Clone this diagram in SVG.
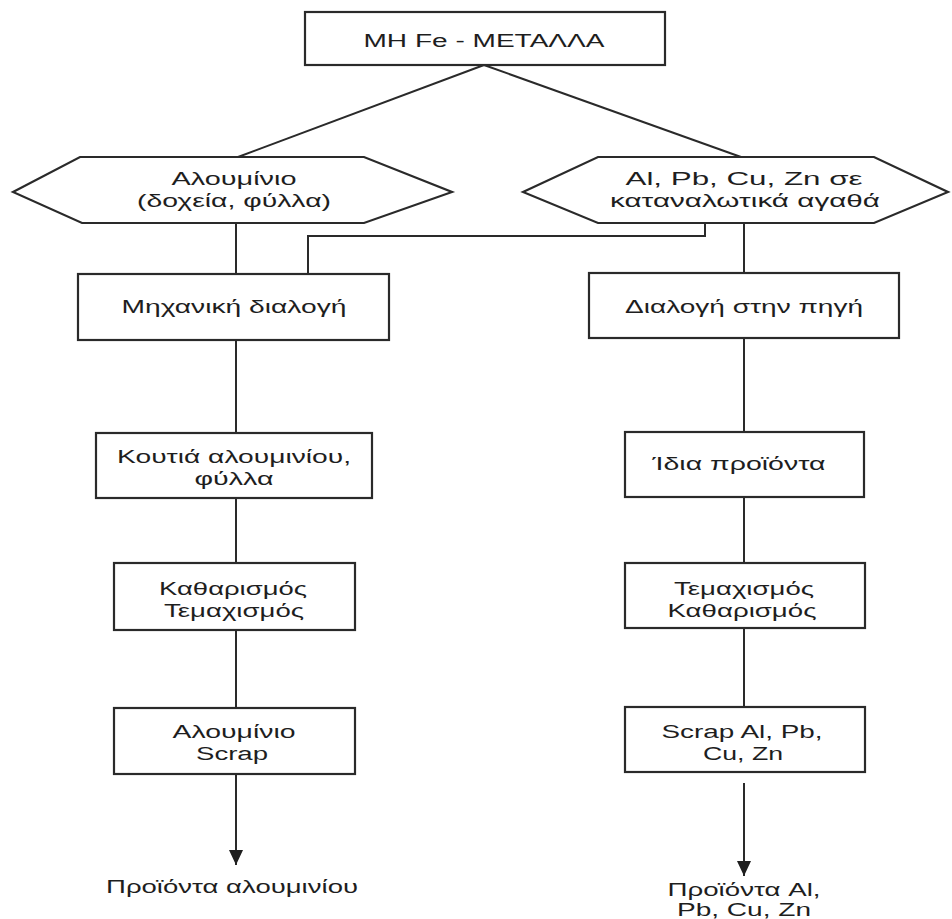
<svg xmlns="http://www.w3.org/2000/svg" width="952" height="919" viewBox="0 0 952 919">
<defs>
<style>
.n{fill:#fff;stroke:#2a2a2a;stroke-width:2.2}
.c{fill:none;stroke:#2a2a2a;stroke-width:2}
text{font-family:"Liberation Sans",Arial,sans-serif;font-size:18px;fill:#1e1e1e;text-anchor:middle}
</style>
<marker id="ah" markerUnits="userSpaceOnUse" markerWidth="16" markerHeight="14" refX="15" refY="7" orient="auto">
<path d="M0,0 L15,7 L0,14 Z" fill="#1e1e1e"/>
</marker>
</defs>
<rect width="952" height="919" fill="#fff"/>
<g id="connectors">
<path class="c" d="M484,65 L238,157"/>
<path class="c" d="M484,65 L741,157"/>
<path class="c" d="M236,223 V274"/>
<path class="c" d="M705,223 V236 H308 V274"/>
<path class="c" d="M744,223 V273"/>
<path class="c" d="M236,340 V433"/>
<path class="c" d="M744,338 V432"/>
<path class="c" d="M236,498 V563"/>
<path class="c" d="M744,497 V563"/>
<path class="c" d="M236,630 V708"/>
<path class="c" d="M744,628 V707"/>
<path class="c" d="M236,774 V865" marker-end="url(#ah)"/>
<path class="c" d="M744,783 V876" marker-end="url(#ah)"/>
</g>
<g id="top">
<rect class="n" x="305" y="12" width="360" height="53"/>
<text x="484" y="47" textLength="241" lengthAdjust="spacingAndGlyphs">ΜΗ Fe - ΜΕΤΑΛΛΑ</text>
</g>
<g id="hexLeft">
<polygon class="n" points="13,192 80,157 364,157 452,192 364,223 82,223"/>
<text x="234" y="185" textLength="125" lengthAdjust="spacingAndGlyphs">Αλουμίνιο</text>
<text x="234" y="207" textLength="194" lengthAdjust="spacingAndGlyphs">(δοχεία, φύλλα)</text>
</g>
<g id="hexRight">
<polygon class="n" points="523,192 598,157 874,157 948,192 874,223 598,223"/>
<text x="744" y="185" textLength="237" lengthAdjust="spacingAndGlyphs">Al, Pb, Cu, Zn σε</text>
<text x="745" y="207" textLength="270" lengthAdjust="spacingAndGlyphs">καταναλωτικά αγαθά</text>
</g>
<g id="mechSort">
<rect class="n" x="78" y="274" width="311" height="66"/>
<text x="234" y="313" textLength="225" lengthAdjust="spacingAndGlyphs">Μηχανική διαλογή</text>
</g>
<g id="sourceSort">
<rect class="n" x="589" y="273" width="310" height="65"/>
<text x="744" y="313" textLength="238" lengthAdjust="spacingAndGlyphs">Διαλογή στην πηγή</text>
</g>
<g id="cans">
<rect class="n" x="96" y="433" width="276" height="65"/>
<text x="234" y="463" textLength="234" lengthAdjust="spacingAndGlyphs">Κουτιά αλουμινίου,</text>
<text x="234" y="485" textLength="79" lengthAdjust="spacingAndGlyphs">φύλλα</text>
</g>
<g id="sameProducts">
<rect class="n" x="625" y="432" width="239" height="65"/>
<text x="739" y="470" textLength="173" lengthAdjust="spacingAndGlyphs">Ίδια προϊόντα</text>
</g>
<g id="cleanLeft">
<rect class="n" x="114" y="563" width="241" height="67"/>
<text x="233" y="595" textLength="148" lengthAdjust="spacingAndGlyphs">Καθαρισμός</text>
<text x="234" y="617" textLength="140" lengthAdjust="spacingAndGlyphs">Τεμαχισμός</text>
</g>
<g id="shredRight">
<rect class="n" x="625" y="563" width="240" height="65"/>
<text x="744" y="595" textLength="140" lengthAdjust="spacingAndGlyphs">Τεμαχισμός</text>
<text x="742" y="617" textLength="149" lengthAdjust="spacingAndGlyphs">Καθαρισμός</text>
</g>
<g id="scrapLeft">
<rect class="n" x="114" y="708" width="241" height="66"/>
<text x="234" y="738" textLength="123" lengthAdjust="spacingAndGlyphs">Αλουμίνιο</text>
<text x="232" y="760" textLength="72" lengthAdjust="spacingAndGlyphs">Scrap</text>
</g>
<g id="scrapRight">
<rect class="n" x="625" y="707" width="240" height="65"/>
<text x="742" y="738" textLength="161" lengthAdjust="spacingAndGlyphs">Scrap Al, Pb,</text>
<text x="743" y="760" textLength="80" lengthAdjust="spacingAndGlyphs">Cu, Zn</text>
</g>
<g id="outLeft">
<text x="232" y="893" textLength="252" lengthAdjust="spacingAndGlyphs">Προϊόντα αλουμινίου</text>
</g>
<g id="outRight">
<text x="744" y="896" textLength="153" lengthAdjust="spacingAndGlyphs">Προϊόντα Al,</text>
<text x="744" y="916" textLength="134" lengthAdjust="spacingAndGlyphs">Pb, Cu, Zn</text>
</g>
</svg>
